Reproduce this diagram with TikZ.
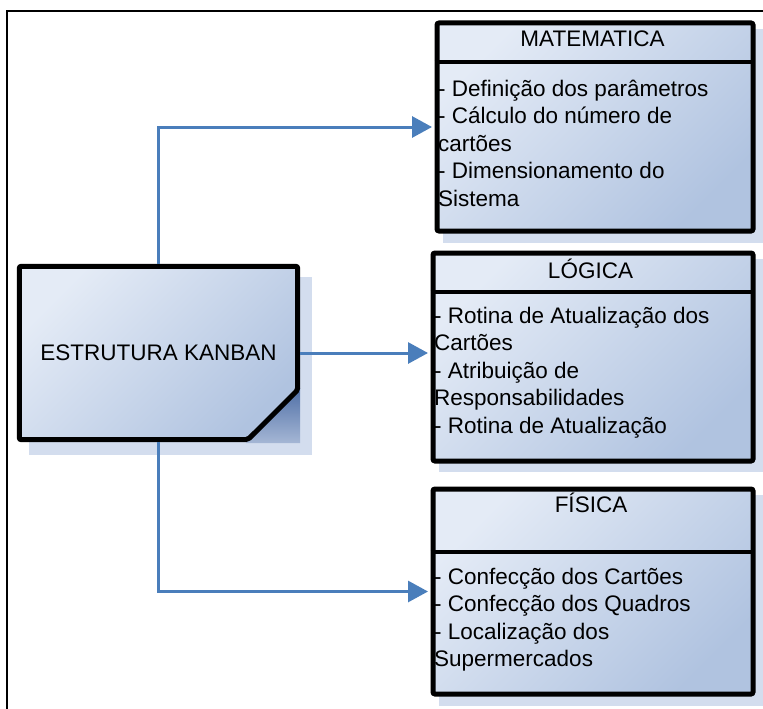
\documentclass[tikz,border=0pt]{standalone}
\usepackage{fontspec}
\setmainfont{Liberation Sans}
\usepackage{tikz}
\usetikzlibrary{arrows.meta}
\usetikzlibrary{positioning}

\definecolor{cardlight}{HTML}{E4EBF6}
\definecolor{carddark}{HTML}{B0C3E0}
\definecolor{shadowblue}{HTML}{D3DDEE}
\definecolor{folddark}{HTML}{4F6FA6}
\definecolor{linkblue}{HTML}{4A7EBB}

\tikzset{
    card/.style = {draw = black, line width = 5pt, rounded corners = 2pt,
        left color = cardlight, right color = carddark, shading angle = 45,
        inner sep = 0pt, anchor = north west},
    divider/.style = {line width = 4.5pt},
    shadowbox/.style = {fill = shadowblue},
    link/.style = {draw = linkblue, line width = 3pt,
        -{Triangle[length = 20pt, width = 21pt]},
        shorten < = 2.5pt, shorten > = 2.5pt},
    heading/.style = {font = \fontsize{22.5}{27.6}\selectfont, inner sep = 0pt, anchor = base},
    items/.style = {font = \fontsize{22.5}{27.6}\selectfont, inner sep = 0pt, anchor = base west}
}

\begin{document}
\begin{tikzpicture}[x = 1pt, y = -1pt]
    \fill [white] (0, 0) rectangle (763, 709);
    \useasboundingbox (0, 0) rectangle (763, 709);
    \draw [line width = 2pt] (7, 709) -- (7, 11) -- (763, 11);

    % shadows
    \fill [shadowbox] (29, 277) rectangle (312, 455);
    \fill [shadowbox] (443, 29) rectangle (765, 243);
    \fill [shadowbox] (439, 259) rectangle (765, 472);
    \fill [shadowbox] (439, 495) rectangle (765, 706);

    % estrutura kanban
    \node [inner sep = 0pt, minimum width = 278pt, minimum height = 173pt] (kanban) at (158.5, 353) {};
    \shade [top color = folddark, bottom color = folddark!35!shadowblue] (300, 388) -- (300, 443) -- (246, 443) -- cycle;
    \draw [card] (kanban.north west) -- (kanban.north east) -- (kanban.east |- 0, 390)
        -- (248, 439.5) -- (kanban.south west) -- cycle;
    \node [heading] (kanbantext) at (158.5, 360) {ESTRUTURA KANBAN};

    % matematica
    \node [card, minimum width = 316pt, minimum height = 208pt] (mat) at (434.5, 20.5) {};
    \draw [divider] (434.5, 62) -- (750.5, 62);
    \node [heading] (mattitle) at (592.5, 47) {MATEMATICA};
    \node [items] (matitems) at (438, 96) {\begin{tabular}[t]{@{}l@{}}
        - Definição dos parâmetros\\
        - Cálculo do número de\\
        cartões\\
        - Dimensionamento do\\
        Sistema\end{tabular}};

    % logica
    \node [card, minimum width = 320pt, minimum height = 208pt] (log) at (430.5, 250.5) {};
    \draw [divider] (430.5, 292) -- (750.5, 292);
    \node [heading] (logtitle) at (590.5, 278) {LÓGICA};
    \node [items] (logitems) at (434, 323) {\begin{tabular}[t]{@{}l@{}}
        - Rotina de Atualização dos\\
        Cartões\\
        - Atribuição de\\
        Responsabilidades\\
        - Rotina de Atualização\end{tabular}};

    % fisica
    \node [card, minimum width = 320pt, minimum height = 205pt] (fis) at (430.5, 486.5) {};
    \draw [divider] (430.5, 552) -- (750.5, 552);
    \node [heading] (fistitle) at (591, 512) {FÍSICA};
    \node [items] (fisitems) at (434, 584) {\begin{tabular}[t]{@{}l@{}}
        - Confecção dos Cartões\\
        - Confecção dos Quadros\\
        - Localização dos\\
        Supermercados\end{tabular}};

    \draw [link] (kanban.north) |- (mat.west);
    \draw [link] (kanban.east) -- (kanban.east -| log.west);
    \draw [link] (kanban.south) |- (fis.west);
\end{tikzpicture}
\end{document}
